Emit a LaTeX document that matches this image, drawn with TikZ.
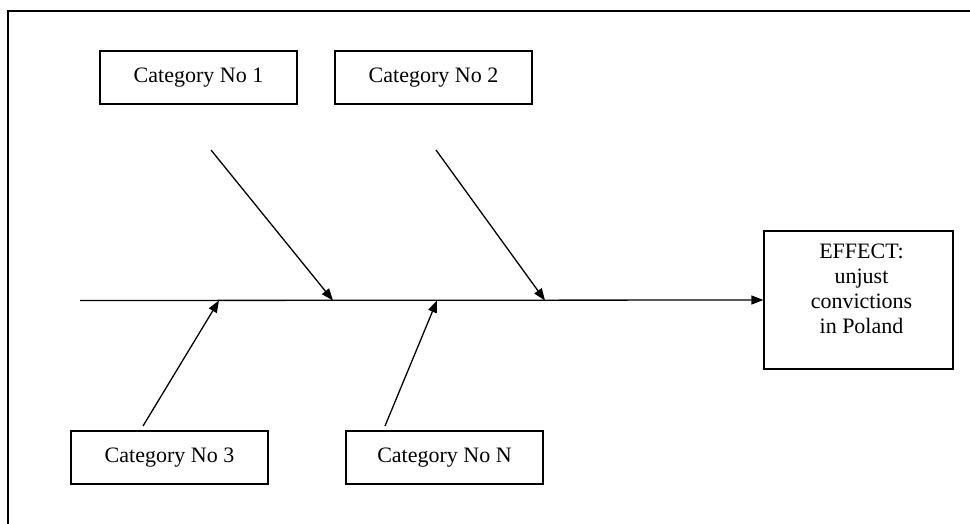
\documentclass[tikz,border=0pt]{standalone}
\usepackage{fontspec}
\setmainfont{Liberation Serif}
\usetikzlibrary{arrows.meta}
\begin{document}
\begin{tikzpicture}[x=1pt,y=-1pt,
  catbox/.style={draw, line width=1.3pt, minimum width=197pt, minimum height=53pt, inner sep=0pt,
    font=\fontsize{22}{25}\selectfont},
  conn/.style={line width=1.3pt, -{Triangle[length=12pt,width=9pt]}},
  frameline/.style={line width=1.5pt}]
\useasboundingbox (0,0) rectangle (970,524);
% outer frame (top and left edges visible)
\coordinate (ftr) at (972,11);
\coordinate (ftl) at (8,11);
\coordinate (fbl) at (8,526);
\draw[frameline] (ftr) -- (ftl) -- (fbl);
% category boxes
\node[catbox] (c1) at (198.5,77.5) {Category No 1};
\node[catbox] (c2) at (433.5,77.5) {Category No 2};
\node[catbox] (c3) at (169.5,457.5) {Category No 3};
\node[catbox] (cN) at (444.5,457.5) {Category No N};
% effect box
\node[draw, line width=1.3pt, minimum width=189pt, minimum height=138pt, inner sep=0pt] (effect) at (858.5,300) {};
\node[align=center, font=\fontsize{22}{25}\selectfont] (efftext) at ([xshift=3pt,yshift=11pt]effect.center)
  {EFFECT:\\unjust\\convictions\\in Poland};
% spine
\coordinate (s0) at (80,300.5);
\draw[conn] (s0) -- (effect.west);
% bones
\coordinate (b1s) at (211,150);
\coordinate (b1e) at (333,300.5);
\coordinate (b2s) at (436,150);
\coordinate (b2e) at (545,300.5);
\coordinate (b3s) at (143,426);
\coordinate (b3e) at (219,300.5);
\coordinate (b4s) at (385,426);
\coordinate (b4e) at (437,300.5);
\draw[conn] (b1s) -- (b1e);
\draw[conn] (b2s) -- (b2e);
\draw[conn] (b3s) -- (b3e);
\draw[conn] (b4s) -- (b4e);
\end{tikzpicture}
\end{document}
